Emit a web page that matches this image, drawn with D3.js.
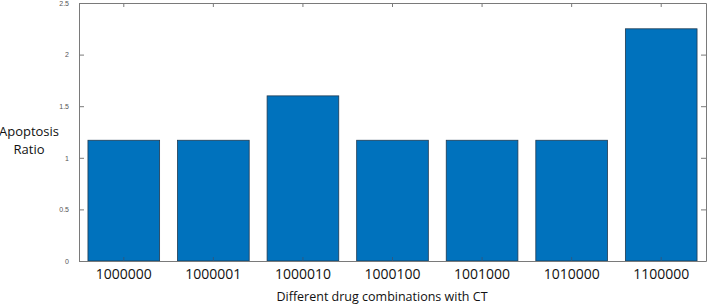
<!DOCTYPE html>
<html lang="en">
<head>
<meta charset="UTF-8">
<title>Apoptosis Ratio</title>
<script src="https://d3js.org/d3.v7.min.js"></script>
<style>
    body { margin: 0; background: #fff; }
    .tick text { font-family: "Liberation Sans", Arial, sans-serif; }
</style>
</head>
<body>
<div id="chart"></div>
<script>
    // data
    var combos = ["1000000", "1000001", "1000010", "1000100", "1001000", "1010000", "1100000"];
    var ratios = [1.17, 1.17, 1.6, 1.17, 1.17, 1.17, 2.25];
    var yTicks = [0, 0.5, 1, 1.5, 2, 2.5];

    var W = 707, H = 304;
    var margin = { top: 3, right: 1, bottom: 43, left: 79 };
    var width = W - margin.left - margin.right;
    var height = H - margin.top - margin.bottom;

    var svg = d3.select("#chart").append("svg")
        .attr("width", W)
        .attr("height", H);

    var g = svg.append("g")
        .attr("transform", "translate(" + margin.left + "," + margin.top + ")");

    var x = d3.scaleBand()
        .domain(combos)
        .range([0, width])
        .paddingInner(0.2)
        .paddingOuter(0.1);

    var y = d3.scaleLinear()
        .domain([0, 2.5])
        .range([height, 0]);

    // bars
    g.selectAll(".bar")
        .data(combos)
        .enter()
        .append("rect")
        .attr("class", "bar")
        .attr("x", function(d) { return x(d); })
        .attr("y", function(d, i) { return y(ratios[i]); })
        .attr("width", x.bandwidth())
        .attr("height", function(d, i) { return height - y(ratios[i]); })
        .attr("fill", "#0072BD")
        .attr("stroke", "#1f3a52")
        .attr("stroke-width", 0.8);

    var axisColor = "#7a7a7a";

    function styleAxis(sel) {
        sel.select(".domain").attr("stroke", axisColor);
        sel.selectAll(".tick line").attr("stroke", axisColor);
    }

    // left axis, ticks pointing inward
    var leftAxis = g.append("g")
        .call(d3.axisLeft(y).tickValues(yTicks).tickSize(-5).tickPadding(10).tickFormat(d3.format("")).tickSizeOuter(0));
    styleAxis(leftAxis);
    leftAxis.selectAll(".tick text").attr("fill", "#555").style("font-size", "7px");

    // right axis, inward ticks, no labels
    var rightAxis = g.append("g")
        .attr("transform", "translate(" + width + ",0)")
        .call(d3.axisRight(y).tickValues(yTicks).tickSize(-5).tickFormat("").tickSizeOuter(0));
    styleAxis(rightAxis);

    // top axis, inward ticks at bar centres
    var topAxis = g.append("g")
        .call(d3.axisTop(x).tickSize(-4).tickFormat("").tickSizeOuter(0));
    styleAxis(topAxis);

    // bottom axis
    var bottomAxis = g.append("g")
        .attr("transform", "translate(0," + height + ")")
        .call(d3.axisBottom(x).tickSize(-4).tickPadding(8).tickSizeOuter(0));
    styleAxis(bottomAxis);
    bottomAxis.selectAll(".tick line").attr("stroke", "#2a5a85");
    bottomAxis.selectAll(".tick text")
        .attr("fill", "#111")
        .style("font-family", "'Open Sans', sans-serif")
        .style("font-size", "14px");

    // axis titles
    svg.append("text")
        .attr("x", 382)
        .attr("y", 301)
        .attr("text-anchor", "middle")
        .style("font-family", "'Open Sans', sans-serif")
        .style("font-size", "12.5px")
        .attr("fill", "#111")
        .text("Different drug combinations with CT");

    var yt = svg.append("text")
        .attr("text-anchor", "middle")
        .style("font-family", "'Open Sans', sans-serif")
        .style("font-size", "13px")
        .attr("fill", "#111");
    yt.append("tspan").attr("x", 29).attr("y", 136).text("Apoptosis");
    yt.append("tspan").attr("x", 29).attr("y", 154).text("Ratio");
</script>
</body>
</html>
